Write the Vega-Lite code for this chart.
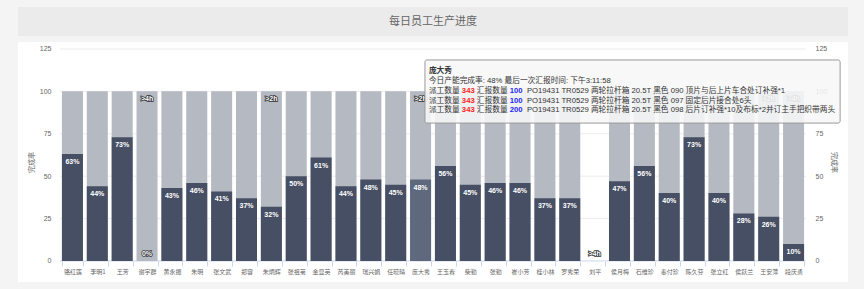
{
  "$schema": "https://vega.github.io/schema/vega-lite/v6.json",
  "background": "#f4f4f4",
  "padding": {"left": 18, "top": 7, "right": 16, "bottom": 7},
  "spacing": 6,
  "config": {"view": {"stroke": null}, "font": "Liberation Sans, Noto Sans CJK SC"},
  "datasets": {
    "bars": [
      {"name": "骆红莲", "pct": 63, "bg": 100, "status": null},
      {"name": "李明1", "pct": 44, "bg": 100, "status": null},
      {"name": "王芳", "pct": 73, "bg": 100, "status": null},
      {"name": "谢宇群", "pct": 0, "bg": 100, "status": ">4h"},
      {"name": "黄永振", "pct": 43, "bg": 100, "status": null},
      {"name": "朱明", "pct": 46, "bg": 100, "status": null},
      {"name": "张文武", "pct": 41, "bg": 100, "status": null},
      {"name": "郑容", "pct": 37, "bg": 100, "status": null},
      {"name": "朱炳辉", "pct": 32, "bg": 100, "status": ">2h"},
      {"name": "张祖菊", "pct": 50, "bg": 100, "status": null},
      {"name": "金显英", "pct": 61, "bg": 100, "status": null},
      {"name": "芮美丽", "pct": 44, "bg": 100, "status": null},
      {"name": "瑞兴娟", "pct": 48, "bg": 100, "status": null},
      {"name": "任晓晴", "pct": 45, "bg": 100, "status": null},
      {"name": "庞大秀", "pct": 48, "bg": 100, "status": ">2h"},
      {"name": "王玉春", "pct": 56, "bg": 100, "status": null},
      {"name": "柴勤", "pct": 45, "bg": 100, "status": null},
      {"name": "张勤", "pct": 46, "bg": 100, "status": null},
      {"name": "崔小芳", "pct": 46, "bg": 100, "status": null},
      {"name": "桂小林", "pct": 37, "bg": 100, "status": null},
      {"name": "罗秀荣", "pct": 37, "bg": 100, "status": null},
      {"name": "刘平", "pct": null, "bg": null, "status": ">4h"},
      {"name": "侯月梅", "pct": 47, "bg": 100, "status": null},
      {"name": "石维珍", "pct": 56, "bg": 100, "status": null},
      {"name": "秦付珍", "pct": 40, "bg": 100, "status": null},
      {"name": "陈久芬", "pct": 73, "bg": 100, "status": null},
      {"name": "张立红", "pct": 40, "bg": 100, "status": null},
      {"name": "侯跃兰", "pct": 28, "bg": 100, "status": null},
      {"name": "王安萍", "pct": 26, "bg": 100, "status": ">2h"},
      {"name": "段庆勇", "pct": 10, "bg": 100, "status": ">4h"}
    ],
    "grid": [{"v": 0}, {"v": 25}, {"v": 50}, {"v": 75}, {"v": 100}, {"v": 125}]
  },
  "vconcat": [
    {
      "width": 830,
      "height": 29,
      "view": {"fill": "#ebebeb", "stroke": null},
      "data": {"values": [{"t": "每日员工生产进度"}]},
      "mark": {"type": "text", "font": "Noto Sans CJK SC", "fontSize": 11, "color": "#666666"},
      "encoding": {"text": {"field": "t", "type": "nominal"}}
    },
    {
      "width": 830,
      "height": 240,
      "view": {"fill": "#ffffff", "stroke": null},
      "data": {"name": "bars"},
      "resolve": {"scale": {"x": "independent"}, "axis": {"x": "independent", "y": "independent"}},
      "layer": [
        {
          "data": {"name": "grid"},
          "mark": {"type": "rule", "strokeWidth": 1},
          "encoding": {
            "x": {"datum": -0.08, "type": "quantitative", "scale": {"domain": [-1.77, 31.617], "nice": false, "zero": false}, "axis": null},
            "x2": {"datum": 29.93},
            "y": {"field": "v", "type": "quantitative", "scale": {"domain": [-12.4, 129.1], "nice": false, "zero": false},
              "axis": {"orient": "right", "values": [0, 25, 50, 75, 100, 125], "title": "完成率", "offset": -35, "domain": false, "ticks": false, "grid": false, "labelPadding": 2, "labelFontSize": 7, "labelColor": "#666666", "labelFont": "Liberation Sans", "titleFont": "Noto Sans CJK SC", "titleFontSize": 7, "titleFontWeight": "normal", "titleColor": "#666666", "titlePadding": 4}},
            "color": {"condition": {"test": "datum.v === 0", "value": "#ccd6eb"}, "value": "#ececec"}
          }
        },
        {
          "mark": {"type": "bar", "color": "#b4b9c2"},
          "encoding": {
            "x": {"field": "name", "type": "nominal", "sort": null,
              "scale": {"type": "band", "domain": ["骆红莲","李明1","王芳","谢宇群","黄永振","朱明","张文武","郑容","朱炳辉","张祖菊","金显英","芮美丽","瑞兴娟","任晓晴","庞大秀","王玉春","柴勤","张勤","崔小芳","桂小林","罗秀荣","刘平","侯月梅","石维珍","秦付珍","陈久芬","张立红","侯跃兰","王安萍","段庆勇"], "range": [42, 788], "paddingInner": 0.155, "paddingOuter": 0.0775},
              "axis": {"orient": "bottom", "offset": -21, "title": null, "domain": false, "grid": false, "tickBand": "extent", "tickColor": "#ccd6eb", "tickSize": 5, "labelFont": "Noto Sans CJK SC", "labelFontSize": 6, "labelColor": "#666666", "labelPadding": 2, "labelAngle": 0}},
            "y": {"field": "bg", "type": "quantitative", "scale": {"domain": [-12.4, 129.1], "nice": false, "zero": false},
              "axis": {"orient": "left", "values": [0, 25, 50, 75, 100, 125], "title": "完成率", "offset": -35, "domain": false, "ticks": false, "grid": false, "labelPadding": 2, "labelFontSize": 7, "labelColor": "#666666", "labelFont": "Liberation Sans", "titleFont": "Noto Sans CJK SC", "titleFontSize": 7, "titleFontWeight": "normal", "titleColor": "#666666", "titlePadding": 5}}
          }
        },
        {
          "mark": {"type": "bar"},
          "encoding": {
            "x": {"field": "name", "type": "nominal", "sort": null,
              "scale": {"type": "band", "domain": ["骆红莲","李明1","王芳","谢宇群","黄永振","朱明","张文武","郑容","朱炳辉","张祖菊","金显英","芮美丽","瑞兴娟","任晓晴","庞大秀","王玉春","柴勤","张勤","崔小芳","桂小林","罗秀荣","刘平","侯月梅","石维珍","秦付珍","陈久芬","张立红","侯跃兰","王安萍","段庆勇"], "range": [42, 788], "paddingInner": 0.155, "paddingOuter": 0.0775}, "axis": null},
            "y": {"field": "pct", "type": "quantitative", "scale": {"domain": [-12.4, 129.1], "nice": false, "zero": false}, "axis": null},
            "color": {"condition": {"test": "datum.name === '庞大秀'", "value": "#5e697d"}, "value": "#464f63"}
          }
        },
        {
          "transform": [{"filter": "datum.pct > 0"}, {"calculate": "datum.pct + '%'", "as": "lbl"}],
          "mark": {"type": "text", "baseline": "middle", "dy": 8, "fontSize": 7, "fontWeight": "bold", "font": "Liberation Sans", "color": "#ffffff"},
          "encoding": {
            "x": {"field": "name", "type": "nominal", "sort": null,
              "scale": {"type": "band", "domain": ["骆红莲","李明1","王芳","谢宇群","黄永振","朱明","张文武","郑容","朱炳辉","张祖菊","金显英","芮美丽","瑞兴娟","任晓晴","庞大秀","王玉春","柴勤","张勤","崔小芳","桂小林","罗秀荣","刘平","侯月梅","石维珍","秦付珍","陈久芬","张立红","侯跃兰","王安萍","段庆勇"], "range": [42, 788], "paddingInner": 0.155, "paddingOuter": 0.0775}, "axis": null},
            "y": {"field": "pct", "type": "quantitative", "scale": {"domain": [-12.4, 129.1], "nice": false, "zero": false}, "axis": null},
            "text": {"field": "lbl", "type": "nominal"}
          }
        },
        {
          "transform": [{"filter": "datum.status != null && datum.bg != null"}],
          "mark": {"type": "text", "baseline": "middle", "dy": 8, "fontSize": 7, "fontWeight": "bold", "font": "Liberation Sans", "fill": "#333333", "stroke": "#333333", "strokeWidth": 1.6},
          "encoding": {
            "x": {"field": "name", "type": "nominal", "sort": null,
              "scale": {"type": "band", "domain": ["骆红莲","李明1","王芳","谢宇群","黄永振","朱明","张文武","郑容","朱炳辉","张祖菊","金显英","芮美丽","瑞兴娟","任晓晴","庞大秀","王玉春","柴勤","张勤","崔小芳","桂小林","罗秀荣","刘平","侯月梅","石维珍","秦付珍","陈久芬","张立红","侯跃兰","王安萍","段庆勇"], "range": [42, 788], "paddingInner": 0.155, "paddingOuter": 0.0775}, "axis": null},
            "y": {"field": "bg", "type": "quantitative", "scale": {"domain": [-12.4, 129.1], "nice": false, "zero": false}, "axis": null},
            "text": {"field": "status", "type": "nominal"}
          }
        },
        {
          "transform": [{"filter": "datum.status != null && datum.bg != null"}],
          "mark": {"type": "text", "baseline": "middle", "dy": 8, "fontSize": 7, "fontWeight": "bold", "font": "Liberation Sans", "color": "#ffffff"},
          "encoding": {
            "x": {"field": "name", "type": "nominal", "sort": null,
              "scale": {"type": "band", "domain": ["骆红莲","李明1","王芳","谢宇群","黄永振","朱明","张文武","郑容","朱炳辉","张祖菊","金显英","芮美丽","瑞兴娟","任晓晴","庞大秀","王玉春","柴勤","张勤","崔小芳","桂小林","罗秀荣","刘平","侯月梅","石维珍","秦付珍","陈久芬","张立红","侯跃兰","王安萍","段庆勇"], "range": [42, 788], "paddingInner": 0.155, "paddingOuter": 0.0775}, "axis": null},
            "y": {"field": "bg", "type": "quantitative", "scale": {"domain": [-12.4, 129.1], "nice": false, "zero": false}, "axis": null},
            "text": {"field": "status", "type": "nominal"}
          }
        },
        {
          "transform": [{"filter": "datum.pct === 0 || (datum.status != null && datum.bg == null)"}, {"calculate": "datum.pct === 0 ? '0%' : datum.status", "as": "blab"}],
          "mark": {"type": "text", "baseline": "middle", "dy": -7, "fontSize": 7, "fontWeight": "bold", "font": "Liberation Sans", "fill": "#333333", "stroke": "#333333", "strokeWidth": 1.6},
          "encoding": {
            "x": {"field": "name", "type": "nominal", "sort": null,
              "scale": {"type": "band", "domain": ["骆红莲","李明1","王芳","谢宇群","黄永振","朱明","张文武","郑容","朱炳辉","张祖菊","金显英","芮美丽","瑞兴娟","任晓晴","庞大秀","王玉春","柴勤","张勤","崔小芳","桂小林","罗秀荣","刘平","侯月梅","石维珍","秦付珍","陈久芬","张立红","侯跃兰","王安萍","段庆勇"], "range": [42, 788], "paddingInner": 0.155, "paddingOuter": 0.0775}, "axis": null},
            "y": {"datum": 0, "type": "quantitative", "scale": {"domain": [-12.4, 129.1], "nice": false, "zero": false}, "axis": null},
            "text": {"field": "blab", "type": "nominal"}
          }
        },
        {
          "transform": [{"filter": "datum.pct === 0 || (datum.status != null && datum.bg == null)"}, {"calculate": "datum.pct === 0 ? '0%' : datum.status", "as": "blab"}],
          "mark": {"type": "text", "baseline": "middle", "dy": -7, "fontSize": 7, "fontWeight": "bold", "font": "Liberation Sans", "color": "#ffffff"},
          "encoding": {
            "x": {"field": "name", "type": "nominal", "sort": null,
              "scale": {"type": "band", "domain": ["骆红莲","李明1","王芳","谢宇群","黄永振","朱明","张文武","郑容","朱炳辉","张祖菊","金显英","芮美丽","瑞兴娟","任晓晴","庞大秀","王玉春","柴勤","张勤","崔小芳","桂小林","罗秀荣","刘平","侯月梅","石维珍","秦付珍","陈久芬","张立红","侯跃兰","王安萍","段庆勇"], "range": [42, 788], "paddingInner": 0.155, "paddingOuter": 0.0775}, "axis": null},
            "y": {"datum": 0, "type": "quantitative", "scale": {"domain": [-12.4, 129.1], "nice": false, "zero": false}, "axis": null},
            "text": {"field": "blab", "type": "nominal"}
          }
        },
        {
          "data": {"values": [{"k": 1}]},
          "layer": [
            {
              "mark": {"type": "rect", "fill": "#f7f7f7", "fillOpacity": 0.88, "stroke": "#9a9a9a", "strokeWidth": 1, "cornerRadius": 2},
              "encoding": {
                "x": {"datum": 14.6, "type": "quantitative", "scale": {"domain": [-1.77, 31.617], "nice": false, "zero": false}, "axis": null},
                "x2": {"datum": 31.3},
                "y": {"datum": 118.5, "type": "quantitative", "scale": {"domain": [-12.4, 129.1], "nice": false, "zero": false}, "axis": null},
                "y2": {"datum": 81.3}
              }
            },
            {
              "mark": {"type": "text", "text": "庞大秀", "align": "left", "baseline": "top", "fontSize": 7.7, "fontWeight": "bold", "font": "Noto Sans CJK SC", "color": "#333333"},
              "encoding": {
                "x": {"datum": 14.76, "type": "quantitative", "scale": {"domain": [-1.77, 31.617], "nice": false, "zero": false}, "axis": null},
                "y": {"datum": 114.45, "type": "quantitative", "scale": {"domain": [-12.4, 129.1], "nice": false, "zero": false}, "axis": null}
              }
            },
            {
              "mark": {"type": "text", "text": ["今日产能完成率: 48% 最后一次汇报时间: 下午3:11:58", "派工数量", "派工数量", "派工数量"], "lineHeight": 9.8, "align": "left", "baseline": "top", "fontSize": 7.7, "font": "Liberation Sans, Noto Sans CJK SC", "color": "#333333"},
              "encoding": {
                "x": {"datum": 14.76, "type": "quantitative", "scale": {"domain": [-1.77, 31.617], "nice": false, "zero": false}, "axis": null},
                "y": {"datum": 108.5, "type": "quantitative", "scale": {"domain": [-12.4, 129.1], "nice": false, "zero": false}, "axis": null}
              }
            },
            {
              "mark": {"type": "text", "text": ["343", "343", "343"], "lineHeight": 9.8, "align": "left", "baseline": "top", "fontSize": 7.7, "fontWeight": "bold", "font": "Liberation Sans", "color": "#ff2020"},
              "encoding": {
                "x": {"datum": 16.085, "type": "quantitative", "scale": {"domain": [-1.77, 31.617], "nice": false, "zero": false}, "axis": null},
                "y": {"datum": 102.7, "type": "quantitative", "scale": {"domain": [-12.4, 129.1], "nice": false, "zero": false}, "axis": null}
              }
            },
            {
              "mark": {"type": "text", "text": ["汇报数量", "汇报数量", "汇报数量"], "lineHeight": 9.8, "align": "left", "baseline": "top", "fontSize": 7.7, "font": "Noto Sans CJK SC", "color": "#333333"},
              "encoding": {
                "x": {"datum": 16.688, "type": "quantitative", "scale": {"domain": [-1.77, 31.617], "nice": false, "zero": false}, "axis": null},
                "y": {"datum": 102.7, "type": "quantitative", "scale": {"domain": [-12.4, 129.1], "nice": false, "zero": false}, "axis": null}
              }
            },
            {
              "mark": {"type": "text", "text": ["100", "100", "200"], "lineHeight": 9.8, "align": "left", "baseline": "top", "fontSize": 7.7, "fontWeight": "bold", "font": "Liberation Sans", "color": "#1f1fff"},
              "encoding": {
                "x": {"datum": 18.013, "type": "quantitative", "scale": {"domain": [-1.77, 31.617], "nice": false, "zero": false}, "axis": null},
                "y": {"datum": 102.7, "type": "quantitative", "scale": {"domain": [-12.4, 129.1], "nice": false, "zero": false}, "axis": null}
              }
            },
            {
              "mark": {"type": "text", "text": ["PO19431 TR0529 两轮拉杆箱 20.5T 黑色 090 顶片与后上片车合处订补强*1", "PO19431 TR0529 两轮拉杆箱 20.5T 黑色 097 固定后片接合处6头", "PO19431 TR0529 两轮拉杆箱 20.5T 黑色 098 后片订补强*10及布标*2并订主手把织带两头"], "lineHeight": 9.8, "align": "left", "baseline": "top", "fontSize": 7.7, "font": "Liberation Sans, Noto Sans CJK SC", "color": "#333333"},
              "encoding": {
                "x": {"datum": 18.702, "type": "quantitative", "scale": {"domain": [-1.77, 31.617], "nice": false, "zero": false}, "axis": null},
                "y": {"datum": 102.7, "type": "quantitative", "scale": {"domain": [-12.4, 129.1], "nice": false, "zero": false}, "axis": null}
              }
            }
          ]
        }
      ]
    }
  ]
}
